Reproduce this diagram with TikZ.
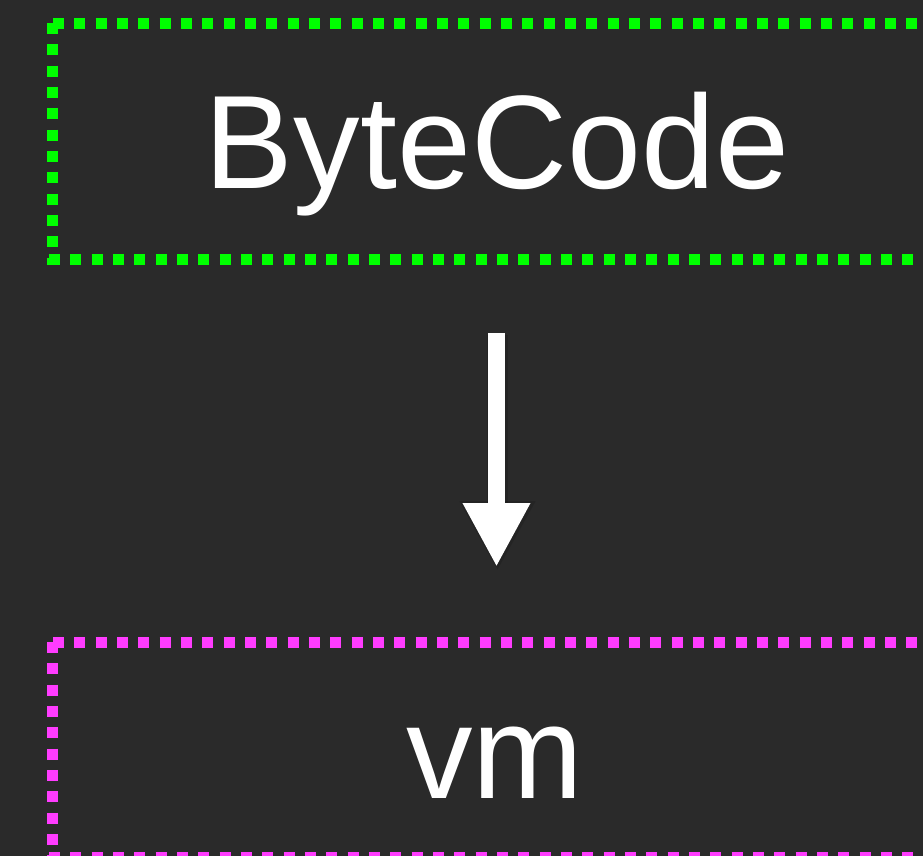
\documentclass[tikz,border=0pt]{standalone}
\usepackage{fontspec}
\setmainfont{Liberation Sans}
\usetikzlibrary{arrows.meta}
\definecolor{bg}{HTML}{2A2A2A}
\definecolor{codegreen}{HTML}{00FF00}
\definecolor{vmpink}{HTML}{FF3CFF}
\tikzset{
  dotframe/.style={line width=11pt, dash pattern=on 11pt off 10.33pt},
  label/.style={text=white, font=\fontsize{133}{140}\selectfont, inner sep=0pt, anchor=base},
  flow/.style={white, line width=17pt, -{Triangle[width=63pt,length=64pt]}},
  flowshade/.style={black, opacity=0.12, line width=21pt, -{Triangle[width=71pt,length=70pt]}}
}
\begin{document}
\begin{tikzpicture}[x=1pt,y=-1pt]
  \fill[bg] (0,0) rectangle (923,856);
  \clip (0,0) rectangle (923,856);

  % ByteCode frame (runs off the right edge)
  \draw[dotframe, codegreen] (52.5,23) -- (52.5,265);
  \draw[dotframe, codegreen] (53,23.5) -- (1000,23.5);
  \draw[dotframe, codegreen] (49,259.5) -- (1000,259.5);

  % vm frame (runs off the right and bottom edges)
  \draw[dotframe, vmpink] (52.5,642) -- (52.5,870);
  \draw[dotframe, vmpink] (53,642) -- (1000,642);
  \draw[dotframe, vmpink] (49,857.5) -- (1000,857.5);

  \node[label] (bytecode) at (497,188.3) {ByteCode};
  \node[label] (vm) at (495,798.3) {vm};

  % downward arrow between the two stages
  \coordinate (from) at (496.5,333);
  \coordinate (to) at (496.5,567);
  \coordinate (shadefrom) at (497.5,335);
  \coordinate (shadeto) at (497.5,571);
  \draw[flowshade] (shadefrom) -- (shadeto);
  \draw[flow] (from) -- (to);
\end{tikzpicture}
\end{document}
